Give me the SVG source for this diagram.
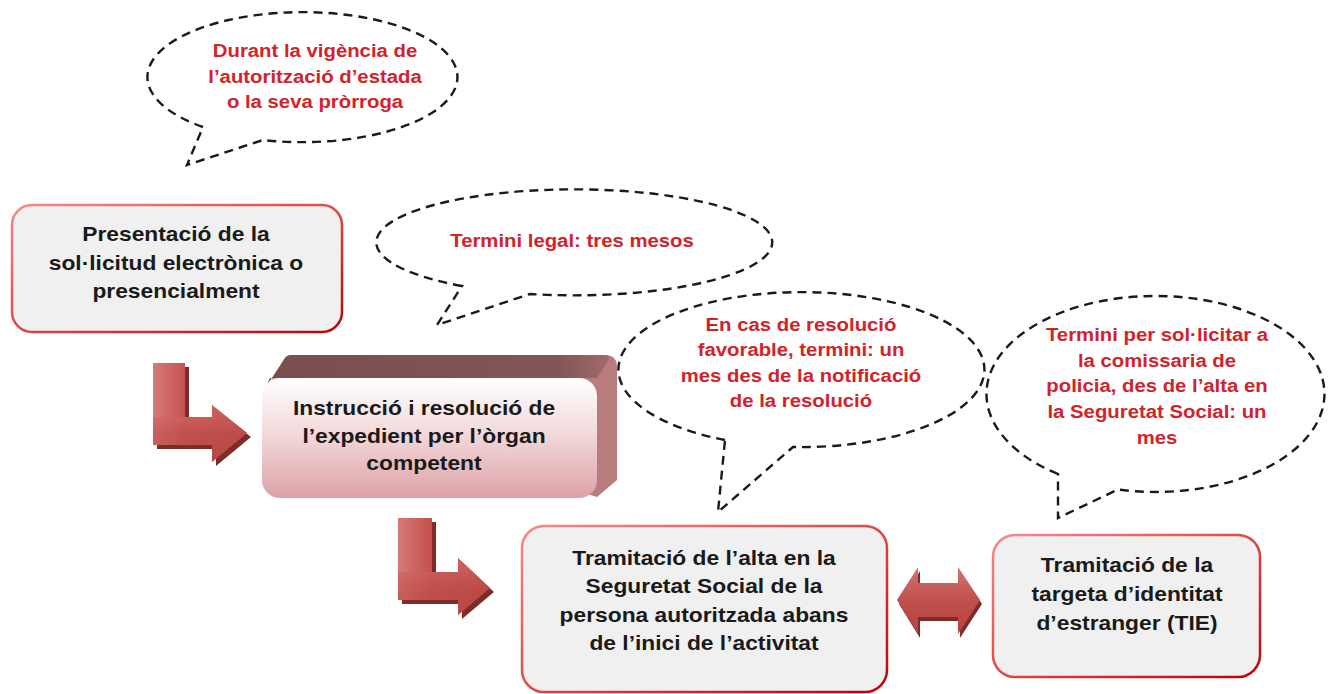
<svg xmlns="http://www.w3.org/2000/svg" width="1332" height="694" viewBox="0 0 1332 694">
<defs>
<linearGradient id="boxStroke" x1="0" y1="0" x2="1" y2="1">
<stop offset="0" stop-color="#f58a8a"/>
<stop offset="0.5" stop-color="#e04848"/>
<stop offset="1" stop-color="#c00000"/>
</linearGradient>
<linearGradient id="front3d" x1="0" y1="0" x2="0" y2="1">
<stop offset="0" stop-color="#ffffff"/>
<stop offset="0.45" stop-color="#f3dadc"/>
<stop offset="1" stop-color="#dca2a7"/>
</linearGradient>
<linearGradient id="top3d" x1="0" y1="0" x2="1" y2="0">
<stop offset="0" stop-color="#7a4e4e"/>
<stop offset="0.85" stop-color="#825656"/>
<stop offset="1" stop-color="#a06a6c"/>
</linearGradient>
<linearGradient id="arrowV" x1="0" y1="0" x2="1" y2="0">
<stop offset="0" stop-color="#d77a78"/>
<stop offset="0.35" stop-color="#c4524f"/>
<stop offset="1" stop-color="#b84643"/>
</linearGradient>
<linearGradient id="arrowH" x1="0" y1="0" x2="0" y2="1">
<stop offset="0" stop-color="#d67371"/>
<stop offset="0.5" stop-color="#c0504d"/>
<stop offset="1" stop-color="#b5443f"/>
</linearGradient>
<style>
.box{fill:#f0f0f0;stroke:url(#boxStroke);stroke-width:2.5}
.bt{font-family:"Liberation Sans",Arial,sans-serif;font-weight:bold;font-size:20px;fill:#1a1a1a;text-anchor:middle}
.rt{font-family:"Liberation Sans",Arial,sans-serif;font-weight:bold;font-size:18px;fill:#d2232a;text-anchor:middle}
.bubble{fill:none;stroke:#1a1a1a;stroke-width:2.4;stroke-dasharray:9 6}
.shadow{fill:#7e2c2a}
</style>
</defs>

<g id="connectors">
<g id="arrow1">
<polygon class="shadow" points="157,367 189,367 189,421 216,421 216,409 251,437 216,466 216,449 157,449"/>
<polygon fill="url(#arrowV)" points="153,363 185,363 185,417 212,417 212,405 247,433 212,462 212,445 153,445"/>
<polygon fill="url(#arrowH)" opacity="0.6" points="185,417 212,417 212,405 247,433 212,462 212,445 153,445 153,417"/>
</g>
<g id="arrow2">
<polygon class="shadow" points="402,522 436,522 436,576 462,576 462,562 494,592 462,619 462,604 402,604"/>
<polygon fill="url(#arrowV)" points="398,518 432,518 432,572 458,572 458,558 490,588 458,615 458,600 398,600"/>
<polygon fill="url(#arrowH)" opacity="0.6" points="432,572 458,572 458,558 490,588 458,615 458,600 398,600 398,572"/>
</g>
<g id="arrow3">
<polygon class="shadow" points="899,604 920,571 920,587 960,587 960,571 982,604 960,638 960,621 920,621 920,638"/>
<polygon fill="url(#arrowH)" points="897,600 918,567 918,583 958,583 958,567 980,600 958,634 958,617 918,617 918,634"/>
</g>
</g>

<g id="callout1">
<path class="bubble" d="M 203,127 A 155 65 0 1 1 263,140 L 187,165 Z"/>
<g transform="translate(315,0) scale(1.13,1)">
<text class="rt" x="0" y="57">Durant la vigència de</text>
<text class="rt" x="0" y="83">l’autorització d’estada</text>
<text class="rt" x="0" y="108">o la seva pròrroga</text>
</g>
</g>

<g id="callout2">
<path class="bubble" d="M 462,286 A 198 53 0 1 1 530,294 L 437,325 Z"/>
<g transform="translate(572,0) scale(1.13,1)">
<text class="rt" x="0" y="247">Termini legal: tres mesos</text>
</g>
</g>

<g id="callout3">
<path class="bubble" d="M 725,440 A 183 77.5 0 1 1 793,447 L 718,512 Z"/>
<g transform="translate(801,0) scale(1.13,1)">
<text class="rt" x="0" y="331">En cas de resolució</text>
<text class="rt" x="0" y="356">favorable, termini: un</text>
<text class="rt" x="0" y="382">mes des de la notificació</text>
<text class="rt" x="0" y="407">de la resolució</text>
</g>
</g>

<g id="callout4">
<path class="bubble" d="M 1058,474 A 169 98 0 1 1 1118,489.5 L 1058,518 Z"/>
<g transform="translate(1157,0) scale(1.13,1)">
<text class="rt" x="0" y="341">Termini per sol·licitar a</text>
<text class="rt" x="0" y="367">la comissaria de</text>
<text class="rt" x="0" y="392">policia, des de l’alta en</text>
<text class="rt" x="0" y="418">la Seguretat Social: un</text>
<text class="rt" x="0" y="444">mes</text>
</g>
</g>

<g id="node1">
<rect class="box" x="12" y="205" width="330" height="127" rx="20"/>
<g transform="translate(176,0) scale(1.14,1)">
<text class="bt" x="0" y="241">Presentació de la</text>
<text class="bt" x="0" y="270">sol·licitud electrònica o</text>
<text class="bt" x="0" y="298">presencialment</text>
</g>
</g>

<g id="node2">
<path fill="#b87c7f" d="M 264,392 L 285,358 Q 287,355 292,355 L 605,355 Q 617,355 617,367 L 617,480 L 597,497 Z"/>
<path fill="url(#top3d)" d="M 264,390 L 285,358 Q 287,355 292,355 L 605,355 Q 611,355 608,361 L 597,378 L 270,378 Z"/>
<rect x="262" y="378" width="335" height="120" rx="18" fill="url(#front3d)"/>
<g transform="translate(424,0) scale(1.14,1)">
<text class="bt" x="0" y="415">Instrucció i resolució de</text>
<text class="bt" x="0" y="443">l’expedient per l’òrgan</text>
<text class="bt" x="0" y="470">competent</text>
</g>
</g>

<g id="node3">
<rect class="box" x="522" y="526" width="365" height="166" rx="22"/>
<g transform="translate(704,0) scale(1.14,1)">
<text class="bt" x="0" y="565">Tramitació de l’alta en la</text>
<text class="bt" x="0" y="593">Seguretat Social de la</text>
<text class="bt" x="0" y="622">persona autoritzada abans</text>
<text class="bt" x="0" y="650">de l’inici de l’activitat</text>
</g>
</g>

<g id="node4">
<rect class="box" x="993" y="535" width="267" height="142" rx="22"/>
<g transform="translate(1127,0) scale(1.14,1)">
<text class="bt" x="0" y="572">Tramitació de la</text>
<text class="bt" x="0" y="601">targeta d’identitat</text>
<text class="bt" x="0" y="630">d’estranger (TIE)</text>
</g>
</g>
</svg>
